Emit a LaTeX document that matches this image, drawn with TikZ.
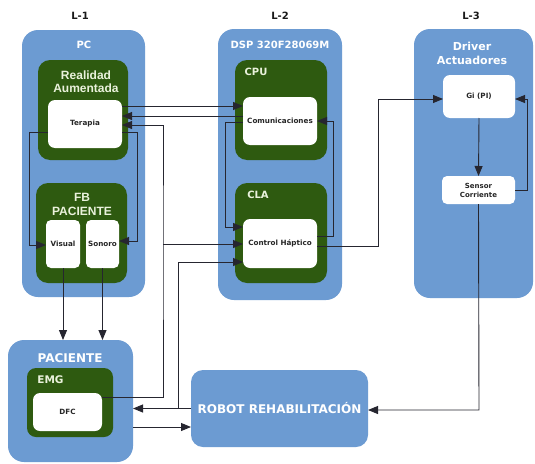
\documentclass[tikz,border=0pt]{standalone}
\usepackage{fontspec}
\setmainfont{DejaVu Sans}
\newfontfamily\libfont{Liberation Sans}
\usetikzlibrary{arrows.meta}
\definecolor{bl}{HTML}{6C9BD2}
\definecolor{gr}{HTML}{2E5A10}
\definecolor{lt}{HTML}{EAF2DC}
\definecolor{lncol}{HTML}{262630}
\begin{document}
\begin{tikzpicture}[x=1pt,y=-1pt,
  box/.style={rectangle, draw=none, inner sep=0pt, outer sep=0pt},
  bluebox/.style={box, fill=bl, rounded corners=16pt},
  greenbox/.style={box, fill=gr, rounded corners=12pt},
  whitebox/.style={box, fill=white, rounded corners=7pt, align=center,
    font=\fontsize{7.2}{9}\selectfont\bfseries, text=black!85},
  toplbl/.style={font=\fontsize{10}{12}\selectfont\bfseries, text=black!90},
  bluelbl/.style={font=\fontsize{10}{12}\selectfont\bfseries, text=white, align=center},
  greenlbl/.style={font=\libfont\fontsize{12}{13.5}\selectfont\bfseries, text=lt, align=center},
  grlbl/.style={font=\fontsize{10}{12}\selectfont\bfseries, text=lt},
  arr/.style={draw=lncol, line width=0.9pt, -{Triangle[length=10pt,width=8pt]}}]
\useasboundingbox (0,0) rectangle (535,463);
\fill[white] (0,0) rectangle (535,463);

% level labels
\node[toplbl] (l1) at (80,16) {L-1};
\node[toplbl] (l2) at (280,16) {L-2};
\node[toplbl] (l3) at (471,16) {L-3};

% L-1 PC
\node[bluebox, minimum width=123pt, minimum height=267pt] (pc) at (83.5,163.5) {};
\node[bluelbl] (tpc) at (84,45) {PC};
\node[greenbox, minimum width=90pt, minimum height=100pt] (ra) at (83,110) {};
\node[greenlbl] (tra) at (86,81.5) {Realidad\\Aumentada};
\node[whitebox, minimum width=74pt, minimum height=48pt] (terapia) at (85,124) {Terapia};
\node[greenbox, minimum width=91pt, minimum height=100pt] (fb) at (81.5,233) {};
\node[greenlbl, font=\libfont\fontsize{12}{14.5}\selectfont\bfseries] (tfb) at (82,204.5) {FB\\PACIENTE};
\node[whitebox, minimum width=34pt, minimum height=48pt, rounded corners=5pt] (visual) at (63,244) {Visual};
\node[whitebox, minimum width=33pt, minimum height=48pt, rounded corners=5pt] (sonoro) at (102.5,244) {Sonoro};

% L-2 DSP
\node[bluebox, minimum width=124pt, minimum height=271pt] (dsp) at (280,164.5) {};
\node[bluelbl] (tdsp) at (280,45) {DSP 320F28069M};
\node[greenbox, minimum width=92pt, minimum height=100pt] (cpu) at (281,110) {};
\node[grlbl] (tcpu) at (256,72) {CPU};
\node[whitebox, minimum width=74pt, minimum height=48pt] (com) at (280,121) {Comunicaciones};
\node[greenbox, minimum width=92pt, minimum height=100pt] (cla) at (281,233) {};
\node[grlbl] (tcla) at (258,195) {CLA};
\node[whitebox, minimum width=74pt, minimum height=49pt] (ctrl) at (280,243.5) {Control Háptico};

% L-3 Driver
\node[bluebox, minimum width=119pt, minimum height=269pt] (drv) at (473.5,163.5) {};
\node[bluelbl, font=\fontsize{11}{14}\selectfont\bfseries] (tdrv) at (472,53) {Driver\\Actuadores};
\node[whitebox, minimum width=72pt, minimum height=43pt] (gi) at (479,96.5) {Gi (PI)};
\node[whitebox, minimum width=73pt, minimum height=28pt, rounded corners=5pt, font=\fontsize{7}{9}\selectfont\bfseries] (sen) at (478.5,190) {Sensor\\Corriente};

% PACIENTE
\node[bluebox, minimum width=125pt, minimum height=122pt] (pac) at (70.5,401) {};
\node[bluelbl, font=\fontsize{12}{14}\selectfont\bfseries] (tpac) at (70,358) {PACIENTE};
\node[greenbox, minimum width=86pt, minimum height=69pt, rounded corners=9pt] (emg) at (70,402.5) {};
\node[grlbl, font=\fontsize{10.5}{12}\selectfont\bfseries] (temg) at (50.5,380) {EMG};
\node[whitebox, minimum width=69pt, minimum height=38pt] (dfc) at (67.5,412) {DFC};

% ROBOT
\node[bluebox, minimum width=177pt, minimum height=77pt, rounded corners=12pt,
  font=\fontsize{12}{14}\selectfont\bfseries, text=white] (robot) at (279.5,408.5) {ROBOT REHABILITACIÓN};

% ---- connectors ----
% Terapia <-> Comunicaciones
\draw[arr] ([yshift=18pt]terapia.east) -- ([yshift=15pt]com.west);
\draw[arr] ([yshift=5pt]com.west) -- ([yshift=8pt]terapia.east);
% DFC -> Terapia and Control Haptico
\coordinate (j2) at (163,244);
\draw[arr] ([yshift=15pt]dfc.east) -| (j2) |- ([yshift=-1pt]terapia.east);
\draw[arr] (j2) -- (ctrl.west |- j2);
% Robot -> Paciente and Control Haptico
\coordinate (j3) at (178,262);
\draw[arr] (robot.west) -- (pac.east |- robot.west);
\draw[arr] (robot.west -| j3) |- (ctrl.west |- j3);
% Paciente -> Robot
\coordinate (p1) at ([yshift=-26pt]pac.east);
\draw[arr] (p1) -- (p1 -| robot.west);
% Terapia -> Visual / Sonoro
\coordinate (k1) at (29,245);
\draw[arr] ([yshift=-8pt]terapia.west) -| (k1) -- (visual.west |- k1);
\coordinate (k2) at (137,241);
\draw[arr] ([yshift=-8pt]terapia.east) -| (k2) -- (sonoro.east |- k2);
% Visual / Sonoro -> Paciente
\draw[arr] (visual.south) -- (visual.south |- pac.north);
\draw[arr] (sonoro.south) -- (sonoro.south |- pac.north);
% Comunicaciones <-> Control Haptico
\coordinate (k3) at (225,227);
\draw[arr] ([yshift=-1pt]com.west) -| (k3) -- (ctrl.west |- k3);
\coordinate (k4) at (333,121);
\draw[arr] ([yshift=7.5pt]ctrl.east) -| (k4) -- (com.east);
% Control Haptico -> Gi
\coordinate (k5) at (378,99);
\draw[arr] ([yshift=-2.5pt]ctrl.east) -| (k5) -- (gi.west |- k5);
% Gi <-> Sensor
\draw[arr] (gi.south) -- (sen.north);
\coordinate (k6) at (527,99);
\draw[arr] (sen.east) -| (k6) -- (gi.east |- k6);
% Sensor -> Robot
\coordinate (k7) at (479,410);
\draw[arr] (sen.south) -- (k7) -- (robot.east |- k7);
\end{tikzpicture}
\end{document}
